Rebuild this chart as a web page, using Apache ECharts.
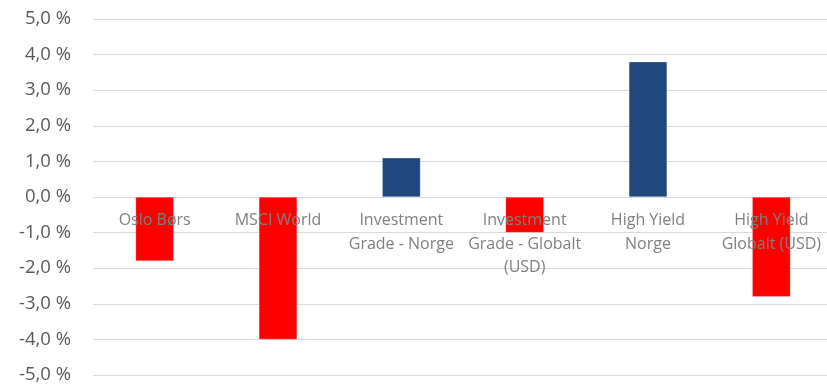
<!DOCTYPE html>
<html><head><meta charset="utf-8">
<script src="https://cdn.jsdelivr.net/npm/echarts@6/dist/echarts.min.js"></script>
<style>html,body{margin:0;padding:0;background:#fff}#c{width:827px;height:385px}</style>
</head><body><div id="c"></div>
<script>
const categories = ["Oslo Børs", "MSCI World", "Investment\nGrade - Norge", "Investment\nGrade - Globalt\n(USD)", "High Yield\nNorge", "High Yield\nGlobalt (USD)"];
const values = [-1.8, -4.0, 1.1, -1.0, 3.8, -2.8];
const yMin = -5, yMax = 5, yStep = 1;
const posColor = "#1F497D", negColor = "#FF0000";

const gridTop = 19, gridHeight = 356;
// shift the category labels up to the zero line
const zeroOffset = -gridHeight * (0 - yMin) / (yMax - yMin);

const chart = echarts.init(document.getElementById('c'), null, {renderer: 'canvas'});
chart.setOption({
  animation: false,
  grid: {left: 93, top: gridTop, width: 740, height: gridHeight, containLabel: false, outerBoundsMode: 'none'},
  xAxis: {
    type: 'category', data: categories, position: 'bottom', offset: zeroOffset,
    axisLine: {show: false, onZero: false},
    axisTick: {show: false},
    axisLabel: {interval: 0, margin: 12, color: '#7F7F7F', fontFamily: 'Open Sans', fontSize: 16, lineHeight: 23.3},
    z: 10
  },
  yAxis: {
    type: 'value', min: yMin, max: yMax, interval: yStep,
    axisLine: {show: false}, axisTick: {show: false},
    splitLine: {lineStyle: {color: '#D9D9D9', width: 1}},
    axisLabel: {margin: 22, color: '#595959', fontFamily: 'Open Sans', fontSize: 18.5,
      formatter: v => v.toFixed(1).replace('.', ',') + ' %'}
  },
  series: [{
    type: 'bar', data: values, barWidth: '31%', z: 2,
    itemStyle: {color: p => p.value >= 0 ? posColor : negColor, borderColor: 'rgba(255,255,255,0.5)', borderWidth: 0.5}
  }]
});
</script></body></html>
